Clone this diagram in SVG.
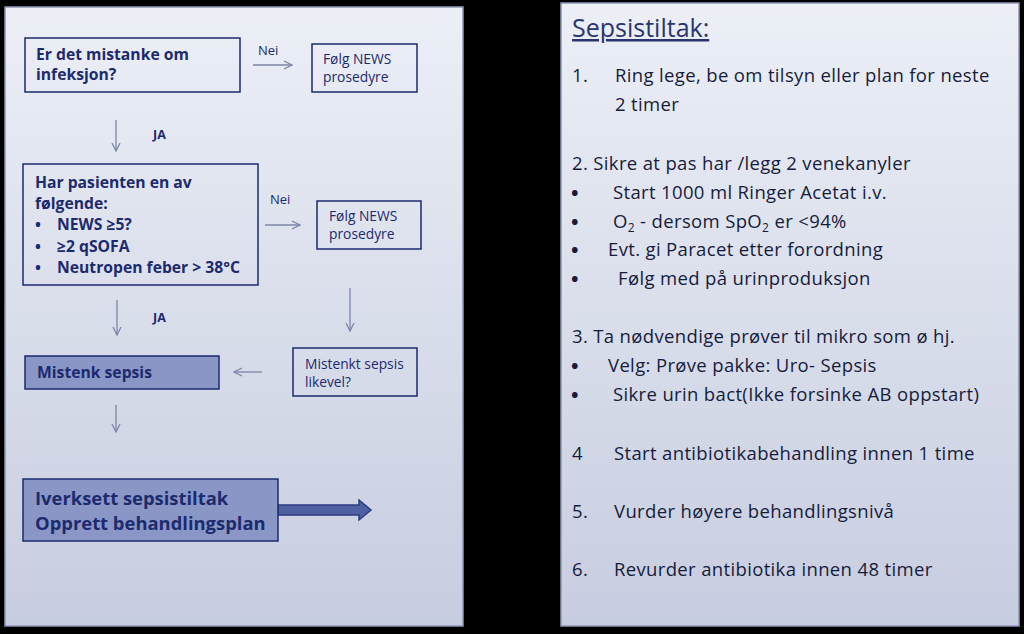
<svg xmlns="http://www.w3.org/2000/svg" width="1024" height="634" viewBox="0 0 1024 634">
<defs>
<linearGradient id="panel" x1="0" y1="0" x2="0" y2="1">
<stop offset="0" stop-color="#eceff6"/>
<stop offset="1" stop-color="#c7cde0"/>
</linearGradient>
<marker id="ah" viewBox="0 0 10 10" refX="9" refY="5" markerWidth="10" markerHeight="10" markerUnits="userSpaceOnUse" orient="auto">
<path d="M1,1 L9,5 L1,9" fill="none" stroke="#7c86a8" stroke-width="1.3"/>
</marker>
<style>
.panel{fill:url(#panel);stroke:#8e96b4;stroke-width:1.5}
.box{fill:none;stroke:#1c2a6e;stroke-width:1.5}
.fbox{fill:#8a97c6;stroke:#1c2a6e;stroke-width:1.5}
.t{font-family:"Open Sans",Lato,sans-serif;fill:#1c2a6e}
.b{font-weight:bold}
.lab{font-family:"Open Sans",Lato,sans-serif;fill:#1c2a6e}
.con{stroke:#7c86a8;stroke-width:1.3;fill:none;marker-end:url(#ah)}
.r{font-family:"Open Sans",Lato,sans-serif;fill:#161c3c;font-size:18.5px;letter-spacing:0.35px}
.bu{font-family:"Open Sans",Lato,sans-serif;fill:#161c3c;font-size:20px;font-weight:bold}
</style>
</defs>
<rect width="1024" height="634" fill="#000"/>
<rect class="panel" x="5" y="7" width="458" height="619"/>
<rect class="panel" x="561" y="3" width="458" height="623"/>

<g id="connectors">
<line class="con" x1="253" y1="65" x2="292" y2="65"/>
<line class="con" x1="116" y1="120" x2="116" y2="151"/>
<line class="con" x1="265" y1="225" x2="300" y2="225"/>
<line class="con" x1="350" y1="288" x2="350" y2="331"/>
<line class="con" x1="117" y1="300" x2="117" y2="335"/>
<line class="con" x1="262" y1="372" x2="234" y2="372"/>
<line class="con" x1="116" y1="405" x2="116" y2="432"/>
<path d="M278,505 H359 V500 L371,510 L359,520 V515 H278 Z" fill="#5061a3" stroke="#2c3a80" stroke-width="1.5"/>
<text class="lab" x="258" y="55" font-size="13">Nei</text>
<text class="lab b" x="153" y="139" font-size="12.5">JA</text>
<text class="lab" x="270" y="204" font-size="13">Nei</text>
<text class="lab b" x="153" y="322" font-size="12.5">JA</text>
</g>

<g id="n1">
<rect class="box" x="25" y="38" width="215" height="54"/>
<text class="t b" x="36" y="60" font-size="15.7">Er det mistanke om</text>
<text class="t b" x="36" y="80" font-size="15.7">infeksjon?</text>
</g>
<g id="n2">
<rect class="box" x="312" y="44" width="105" height="48"/>
<text class="t" x="323" y="64" font-size="13.8">Følg NEWS</text>
<text class="t" x="323" y="82" font-size="13.8">prosedyre</text>
</g>
<g id="n3">
<rect class="box" x="23" y="164" width="235" height="121"/>
<text class="t b" x="35" y="188" font-size="15.7">Har pasienten en av</text>
<text class="t b" x="35" y="209" font-size="15.7">følgende:</text>
<text class="t b" x="35" y="230" font-size="15.7">•</text>
<text class="t b" x="57" y="230" font-size="15.7">NEWS ≥5?</text>
<text class="t b" x="35" y="252" font-size="15.7">•</text>
<text class="t b" x="57" y="252" font-size="15.7">≥2 qSOFA</text>
<text class="t b" x="35" y="273" font-size="15.7">•</text>
<text class="t b" x="57" y="273" font-size="15.7">Neutropen feber &gt; 38°C</text>
</g>
<g id="n4">
<rect class="box" x="317" y="201" width="104" height="48"/>
<text class="t" x="329" y="221" font-size="13.8">Følg NEWS</text>
<text class="t" x="329" y="239" font-size="13.8">prosedyre</text>
</g>
<g id="n5">
<rect class="fbox" x="25" y="356" width="194" height="33"/>
<text class="t b" x="37" y="378" font-size="15.7">Mistenk sepsis</text>
</g>
<g id="n6">
<rect class="box" x="293" y="348" width="124" height="48"/>
<text class="t" x="305" y="369" font-size="13.8">Mistenkt sepsis</text>
<text class="t" x="305" y="387" font-size="13.8">likevel?</text>
</g>
<g id="n7">
<rect class="fbox" x="23" y="479" width="255" height="62"/>
<text class="t b" x="35" y="505" font-size="18.4">Iverksett sepsistiltak</text>
<text class="t b" x="35" y="530" font-size="18.4">Opprett behandlingsplan</text>
</g>

<g id="list">
<text x="572" y="37" font-family="'Open Sans',Lato,sans-serif" font-size="25" fill="#2a3570" text-decoration="underline">Sepsistiltak:</text>
<text class="r" x="572" y="82">1.</text>
<text class="r" x="615" y="82">Ring lege, be om tilsyn eller plan for neste</text>
<text class="r" x="615" y="111">2 timer</text>
<text class="r" x="572" y="170">2. Sikre at pas har /legg 2 venekanyler</text>
<text class="bu" x="571" y="200">•</text>
<text class="r" x="613" y="199">Start 1000 ml Ringer Acetat i.v.</text>
<text class="bu" x="571" y="229">•</text>
<text class="r" x="613" y="228">O<tspan font-size="12" dy="4">2</tspan><tspan dy="-4"> - dersom SpO</tspan><tspan font-size="12" dy="4">2</tspan><tspan dy="-4"> er &lt;94%</tspan></text>
<text class="bu" x="571" y="257">•</text>
<text class="r" x="608" y="256">Evt. gi Paracet etter forordning</text>
<text class="bu" x="571" y="286">•</text>
<text class="r" x="618" y="285">Følg med på urinproduksjon</text>
<text class="r" x="572" y="343">3. Ta nødvendige prøver til mikro som ø hj.</text>
<text class="bu" x="571" y="373">•</text>
<text class="r" x="608" y="372">Velg: Prøve pakke: Uro- Sepsis</text>
<text class="bu" x="571" y="402">•</text>
<text class="r" x="613" y="401">Sikre urin bact(Ikke forsinke AB oppstart)</text>
<text class="r" x="572" y="460">4</text>
<text class="r" x="614" y="460">Start antibiotikabehandling innen 1 time</text>
<text class="r" x="572" y="518">5.</text>
<text class="r" x="614" y="518">Vurder høyere behandlingsnivå</text>
<text class="r" x="572" y="576">6.</text>
<text class="r" x="614" y="576">Revurder antibiotika innen 48 timer</text>
</g>
</svg>
